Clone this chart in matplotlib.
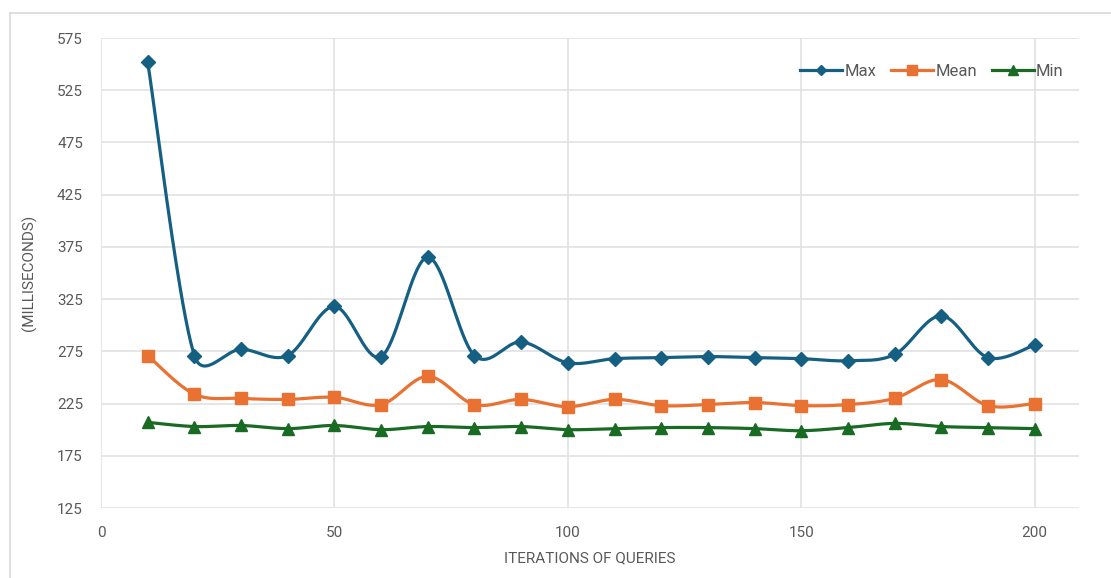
import matplotlib.pyplot as plt
import matplotlib.lines as mlines
import numpy as np

# data
iterations = [10, 20, 30, 40, 50, 60, 70, 80, 90, 100,
              110, 120, 130, 140, 150, 160, 170, 180, 190, 200]
max_ms = [552, 271, 277, 271, 318, 270, 365, 271, 284, 264,
          268, 269, 270, 269, 268, 266, 272, 309, 269, 281]
mean_ms = [271, 234, 230, 229, 231, 224, 251, 224, 229, 222,
           229, 223, 224, 226, 223, 224, 230, 248, 223, 225]
min_ms = [207, 203, 204, 201, 204, 200, 203, 202, 203, 200,
          201, 202, 202, 201, 199, 202, 206, 203, 202, 201]

text_col = '#595959'
grid_col = '#e1e1e1'

W, H = 1111, 578
L, R, T, B = 101, 1079, 38, 508
XMAX, YMIN, YMAX = 209.5, 125, 575
sx_px = (R - L) / XMAX
sy_px = (B - T) / (YMAX - YMIN)


#excel style smoothed line, worked out in pixel space so the curve shape fits the screen
def smooth(xs, ys, n=40):
    p = np.column_stack([np.asarray(xs) * sx_px, np.asarray(ys) * sy_px]).astype(float)
    out = []
    t = np.linspace(0, 1, n, endpoint=False)[:, None]
    m = len(p)
    for i in range(m - 1):
        p1, p2 = p[i], p[i + 1]
        p0 = p[i - 1] if i > 0 else p1
        p3 = p[i + 2] if i + 2 < m else p2
        d12 = np.linalg.norm(p2 - p1)
        def ctrl(a, b, d):
            v = b - a
            n_ = np.linalg.norm(v)
            if n_ == 0:
                return np.zeros(2)
            return v / n_ * min(n_ / 6, 0.6 * d)
        c1 = p1 + ctrl(p0, p2, d12)
        c2 = p2 - ctrl(p1, p3, d12)
        seg = ((1 - t) ** 3) * p1 + 3 * ((1 - t) ** 2) * t * c1 + 3 * (1 - t) * t ** 2 * c2 + t ** 3 * p2
        out.append(seg)
    out.append(p[-1][None, :])
    out = np.vstack(out)
    return out[:, 0] / sx_px, out[:, 1] / sy_px


plt.rcParams['font.family'] = ['Roboto', 'DejaVu Sans']

fig = plt.figure(figsize=(W / 100, H / 100), dpi=100)
ax = fig.add_axes([L / W, 1 - B / H, (R - L) / W, (B - T) / H])

series = [
    ('Max', max_ms, '#156082', 'D', 7),
    ('Mean', mean_ms, '#E97132', 's', 8.5),
    ('Min', min_ms, '#196B24', '^', 9),
]

handles = []
for name, vals, col, mk, ms in series:
    cx, cy = smooth(iterations, vals)
    ax.plot(cx, cy, color=col, lw=2.3, zorder=3, solid_capstyle='round')
    ax.plot(iterations, vals, linestyle='none', marker=mk, markersize=ms,
            color=col, zorder=4)
    handles.append(mlines.Line2D([], [], color=col, lw=2.3, marker=mk,
                                 markersize=ms - 1.5, label=name))

ax.set_xlim(0, XMAX)
ax.set_ylim(YMIN, YMAX)
ax.set_xticks([0, 50, 100, 150, 200])
ax.set_yticks(np.arange(125, 576, 50))
ax.grid(True, color=grid_col, lw=1.2)
ax.set_axisbelow(True)
for s in ax.spines.values():
    s.set_visible(False)
ax.tick_params(length=0, colors=text_col, labelsize=11)
ax.tick_params(axis='x', pad=13)
ax.tick_params(axis='y', pad=13)

ax.set_xlabel('ITERATIONS OF QUERIES', color=text_col, fontsize=11, labelpad=8)
ax.set_ylabel('(MILLISECONDS)', color=text_col, fontsize=11, labelpad=14)

ax.legend(handles=handles, loc='center right', ncol=3, frameon=False,
          fontsize=12, labelcolor=text_col, handlelength=2.5,
          handletextpad=0.15, columnspacing=0.9,
          bbox_to_anchor=((1072 - L) / (R - L), 1 - (71 - T) / (B - T)),
          borderpad=0)

#light frame around the chart area
fig.add_artist(mlines.Line2D([10 / W, 1], [1 - 13 / H, 1 - 13 / H],
                             color='#d9d9d9', lw=1.2))
fig.add_artist(mlines.Line2D([10 / W, 10 / W], [0, 1 - 13 / H],
                             color='#d9d9d9', lw=1.2))

fig.savefig('out.png', dpi=100)
